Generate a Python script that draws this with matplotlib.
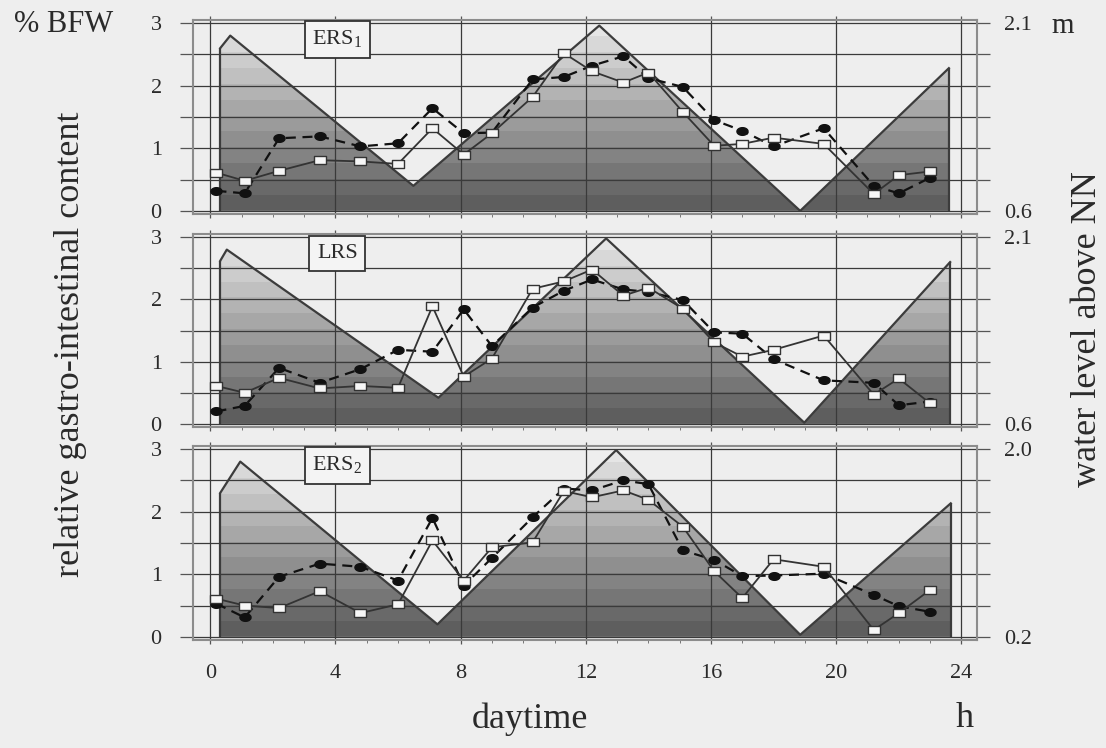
import numpy as np
import matplotlib.pyplot as plt
from matplotlib.path import Path

plt.rcParams['font.family'] = ['Liberation Serif', 'DejaVu Serif']
plt.rcParams['mathtext.fontset'] = 'custom'
plt.rcParams['mathtext.rm'] = 'Liberation Serif'

# sampling times (h)
hours = [0.2, 1.1, 2.2, 3.5, 4.8, 6.0, 7.1, 8.1, 9.0, 10.3, 11.3, 12.2,
         13.2, 14.0, 15.1, 16.1, 17.0, 18.0, 19.6, 21.2, 22.0, 23.0]

# relative gastro-intestinal content (% BFW), open squares / black dots
ers1_sq = [0.61, 0.48, 0.64, 0.81, 0.79, 0.75, 1.32, 0.90, 1.24, 1.82, 2.52, 2.23,
           2.05, 2.21, 1.58, 1.04, 1.07, 1.17, 1.07, 0.27, 0.57, 0.63]
ers1_dot = [0.32, 0.28, 1.16, 1.19, 1.03, 1.08, 1.64, 1.24, 1.25, 2.10, 2.14, 2.32,
            2.47, 2.12, 1.98, 1.45, 1.28, 1.03, 1.32, 0.40, 0.28, 0.53]
lrs_sq = [0.61, 0.50, 0.74, 0.57, 0.61, 0.58, 1.89, 0.76, 1.05, 2.17, 2.29, 2.48,
          2.06, 2.19, 1.85, 1.31, 1.08, 1.19, 1.42, 0.47, 0.73, 0.33]
lrs_dot = [0.20, 0.29, 0.90, 0.66, 0.88, 1.19, 1.16, 1.84, 1.25, 1.87, 2.14, 2.32,
           2.16, 2.12, 1.99, 1.47, 1.45, 1.04, 0.70, 0.66, 0.30, 0.36]
ers2_sq = [0.61, 0.50, 0.46, 0.73, 0.38, 0.52, 1.54, 0.90, 1.43, 1.51, 2.33, 2.23,
           2.34, 2.19, 1.76, 1.05, 0.62, 1.24, 1.12, 0.11, 0.38, 0.75]
ers2_dot = [0.53, 0.31, 0.96, 1.17, 1.12, 0.90, 1.90, 0.82, 1.26, 1.91, 2.37, 2.34,
            2.50, 2.44, 1.38, 1.23, 0.97, 0.98, 1.01, 0.67, 0.49, 0.40]

# water level above NN (m)
tide1_t = [0.32, 0.64, 6.49, 12.43, 18.85, 23.6]
tide1_m = [1.90, 2.00, 0.80, 2.08, 0.60, 1.74]
tide2_t = [0.32, 0.53, 7.29, 12.65, 18.98, 23.64]
tide2_m = [1.91, 2.00, 0.81, 2.09, 0.61, 1.90]
tide3_t = [0.32, 0.96, 7.26, 12.97, 18.85, 23.66]
tide3_m = [1.58, 1.88, 0.32, 1.99, 0.22, 1.48]

panel_names = ['ERS$_\\mathregular{1}$', 'LRS', 'ERS$_\\mathregular{2}$']
level_range = [(0.6, 2.1), (0.6, 2.1), (0.2, 2.0)]
level_labels = [('0.6', '2.1'), ('0.6', '2.1'), ('0.2', '2.0')]

panels = [(ers1_sq, ers1_dot, tide1_t, tide1_m),
          (lrs_sq, lrs_dot, tide2_t, tide2_m),
          (ers2_sq, ers2_dot, tide3_t, tide3_m)]

ink = '#2a2a2a'
bg = '#eeeeee'

# markers: flat open box and flat blob
box = Path([(-1.5, -1), (1.5, -1), (1.5, 1), (-1.5, 1), (-1.5, -1)],
           [1, 2, 2, 2, 79])
th = np.linspace(0, 2 * np.pi, 40)
blob = Path(np.column_stack([1.45 * np.cos(th), np.sin(th)]))

fig = plt.figure(figsize=(11.06, 7.48), dpi=100, facecolor=bg)
rects = [(0.1745, 0.7139, 0.7089, 0.2594),
         (0.1745, 0.4291, 0.7089, 0.2580),
         (0.1745, 0.1444, 0.7089, 0.2594)]

for i, (sq, dot, tt, tm) in enumerate(panels):
    ax = fig.add_axes(rects[i])
    axt = ax.twinx()
    ax.set_zorder(2)
    axt.set_zorder(1)
    ax.patch.set_visible(False)
    axt.patch.set_facecolor('#f1f1f1')

    lo, hi = level_range[i]
    k = (hi - lo) / 3
    axt.set_ylim(lo - 0.05 * k, hi + 0.05 * k)
    ax.set_ylim(-0.05, 3.05)
    ax.set_xlim(-0.55, 24.5)

    # tide: filled to the base, banded grey shading
    xs = [tt[0]] + list(tt) + [tt[-1]]
    ys = [lo] + list(tm) + [lo]
    poly = axt.fill(xs, ys, facecolor='none', edgecolor='none')[0]
    bands = np.linspace(0, 1, 12)[:, None]
    img = axt.imshow(bands, cmap='gray', vmin=-0.7, vmax=1.2, origin='lower',
                     aspect='auto', interpolation='nearest',
                     extent=[-0.55, 24.5, lo, hi + 0.05 * k])
    img.set_clip_path(poly)
    axt.plot(tt, tm, color='#3c3c3c', lw=1.6)
    axt.vlines([tt[0], tt[-1]], lo, [tm[0], tm[-1]], color='#3c3c3c', lw=1.6)

    ax.plot(hours, dot, color='#111111', lw=1.6, dashes=(4.5, 3),
            marker=blob, ms=8, mfc='#111111', mec='#111111', zorder=3)
    ax.plot(hours, sq, color='#333333', lw=1.3,
            marker=box, ms=8.5, mfc='#f6f6f6', mec='#333333', mew=1.0, zorder=4)

    ax.set_axisbelow(True)
    ax.set_yticks(np.arange(0, 3.01, 0.5))
    ax.set_yticklabels(['0', '', '1', '', '2', '', '3'])
    ax.set_xticks(range(0, 25, 4))
    ax.set_xticks(range(0, 25), minor=True)
    ax.grid(True, which='major', color='#3a3a3a', lw=0.9)
    ax.tick_params(axis='y', direction='out', length=9.5, width=0.9, color='#555555',
                   labelsize=16, labelcolor=ink, pad=13)
    ax.tick_params(axis='x', which='major', direction='out', length=3, width=0.9,
                   color='#555555', top=True, labelsize=16, labelcolor=ink, pad=14)
    ax.tick_params(axis='x', which='minor', direction='out', length=2.5, width=0.7,
                   color='#777777')
    if i < 2:
        ax.tick_params(axis='x', labelbottom=False)

    axt.set_yticks(np.linspace(lo, hi, 7))
    axt.set_yticklabels([level_labels[i][0], '', '', '', '', '', level_labels[i][1]])
    axt.tick_params(axis='y', direction='out', length=9.5, width=0.9, color='#555555',
                    labelsize=16, labelcolor=ink, pad=10)
    for s in axt.spines.values():
        s.set_visible(False)
    for s in ax.spines.values():
        s.set_color('#8c8c8c')
        s.set_linewidth(1.5)

    ax.text(0.184, 0.9, panel_names[i], transform=ax.transAxes, ha='center', va='center',
            fontsize=16, color=ink, zorder=6,
            bbox=dict(boxstyle='square,pad=0.35', fc='#f4f4f4', ec='#333333', lw=1.3))

fig.text(0.013, 0.967, '% BFW', fontsize=22, color=ink, va='center', ha='left')
fig.text(0.961, 0.965, 'm', fontsize=21, color=ink, va='center', ha='center')
fig.text(0.064, 0.54, 'relative gastro-intestinal content', rotation=90,
         fontsize=26, color=ink, ha='center', va='center')
fig.text(0.983, 0.56, 'water level above NN', rotation=90,
         fontsize=26, color=ink, ha='center', va='center')
fig.text(0.479, 0.038, 'daytime', fontsize=26, color=ink, ha='center', va='center')
fig.text(0.872, 0.040, 'h', fontsize=26, color=ink, ha='center', va='center')

fig.savefig('out.png', dpi=100, facecolor=bg)
